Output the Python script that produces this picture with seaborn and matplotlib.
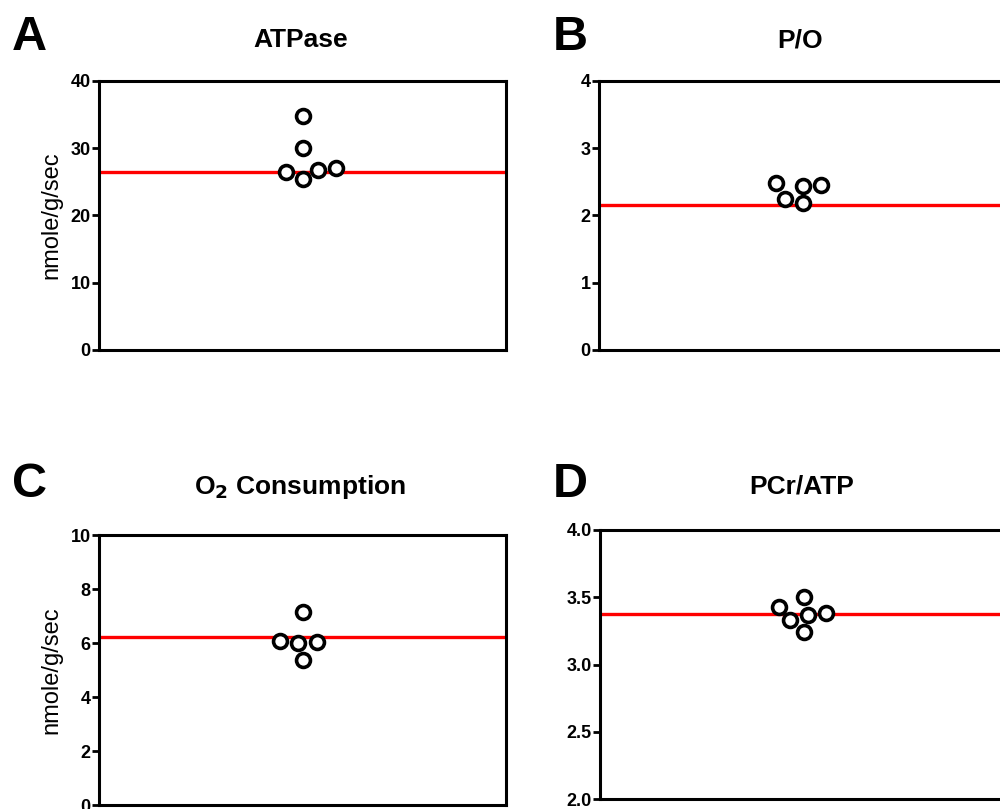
import matplotlib
matplotlib.use("Agg")
import matplotlib.pyplot as plt
import seaborn as sns
import numpy as np
import pandas as pd

sns.set_style("white")
plt.rcParams['font.family'] = ['Liberation Sans', 'DejaVu Sans']
plt.rcParams['text.color'] = 'black'
plt.rcParams['axes.labelcolor'] = 'black'
plt.rcParams['ytick.color'] = 'black'
plt.rcParams['xtick.color'] = 'black'

# Data
atpase = [34.8, 29.95, 26.7, 25.35, 26.4, 27.1]
atpase_ref = 26.5
po = [2.44, 2.48, 2.45, 2.18, 2.25]
po_ref = 2.16
o2 = [7.14, 6.05, 6.08, 6.0, 5.37]
o2_ref = 6.22
pcr = [3.50, 3.43, 3.38, 3.37, 3.33, 3.24]
pcr_ref = 3.375

titles = ["ATPase", "P/O", r"O$_\mathbf{2}$ Consumption", "PCr/ATP"]
letters = ["A", "B", "C", "D"]
ylabels = ["nmole/g/sec", None, "nmole/g/sec", None]
yticks = [[0, 10, 20, 30, 40], [0, 1, 2, 3, 4], [0, 2, 4, 6, 8, 10], [2.0, 2.5, 3.0, 3.5, 4.0]]
yticklabels = [["0", "10", "20", "30", "40"], ["0", "1", "2", "3", "4"],
               ["0", "2", "4", "6", "8", "10"], ["2.0", "2.5", "3.0", "3.5", "4.0"]]
series = [atpase, po, o2, pcr]
refs = [atpase_ref, po_ref, o2_ref, pcr_ref]

fig = plt.figure(figsize=(10, 8.09), dpi=100)
W, H = 1000, 809
# axes boxes in pixels: left, top, right, bottom
boxes = [(99, 80.7, 506, 350), (599, 80.7, 1006, 350),
         (99, 535, 506, 805), (600, 530, 1007, 799.3)]
letter_pos = [(12, 50), (553, 50), (12, 497), (553, 497)]

for i in range(4):
    l, t, r, b = boxes[i]
    ax = fig.add_axes([l / W, 1 - b / H, (r - l) / W, (b - t) / H])
    df = pd.DataFrame({"value": series[i], "grp": ["g"] * len(series[i])})
    ax.axhline(refs[i], color="#ff0000", lw=2.4, zorder=2)
    sns.swarmplot(data=df, x="grp", y="value", ax=ax, color="white",
                  edgecolor="black", linewidth=2.6, size=10, zorder=3)
    ax.set_xlim(-0.5, 0.5)
    ax.set_ylim(yticks[i][0], yticks[i][-1])
    ax.set_xticks([])
    ax.set_xlabel("")
    ax.set_yticks(yticks[i])
    ax.set_yticklabels(yticklabels[i], fontsize=13, fontweight="bold")
    ax.tick_params(axis="y", direction="out", length=5, width=2, pad=1,
                   left=True, colors="black")
    for s in ax.spines.values():
        s.set_linewidth(2.2)
        s.set_color("black")
    if ylabels[i]:
        ax.set_ylabel(ylabels[i], fontsize=17, labelpad=6, color="black")
    else:
        ax.set_ylabel("")
    ty = 47 if i < 2 else 494
    fig.text(((l + r) / 2 - 2) / W, 1 - ty / H, titles[i], fontsize=19,
             fontweight="bold", ha="center", va="baseline", color="black")
    lx, ly = letter_pos[i]
    fig.text(lx / W, 1 - ly / H, letters[i], fontsize=35, fontweight="bold",
             ha="left", va="baseline", color="black")

fig.savefig("out.png", dpi=100)
